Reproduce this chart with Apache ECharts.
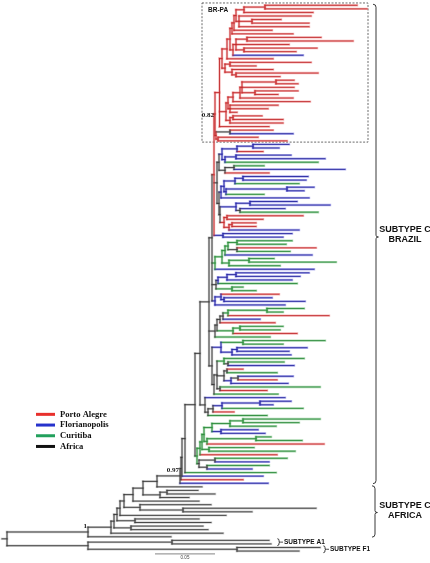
<!DOCTYPE html>
<html><head><meta charset="utf-8">
<script src="https://cdn.jsdelivr.net/npm/echarts@6/dist/echarts.min.js"></script>
<style>html,body{margin:0;padding:0;background:#fff}#c{width:430px;height:563px}</style>
</head><body><div id="c"></div>
<script>
// ---------------- DATA ----------------
const groupNames = ['Porto Alegre', 'Florianopolis', 'Curitiba', 'Africa'];
const groupCodes = ['P', 'F', 'C', 'A'];

// tip (leaf) end positions along the distance axis, top to bottom
const leafEnd = [
  357,367,313,311,281,309,309,272,293,321,353,289,317,296,303,273,311,256,273,318,
  280,294,298,294,298,278,293,310,278,268,237,262,283,283,269,273,293,258,287,
  289,279,263,291,325,318,264,345,269,308,306,299,314,304,264,309,297,330,285,318,
  303,263,256,256,299,292,283,292,286,316,290,312,274,336,280,314,309,300,292,297,
  243,256,279,272,305,285,304,283,329,260,275,283,280,297,270,325,283,307,289,291,
  304,284,294,243,277,293,277,288,320,267,278,285,291,273,303,234,267,
  320,299,276,258,265,271,302,324,254,295,277,287,269,269,252,276,263,243,268,
  202,198,215,189,199,211,316,252,226,199,211,203,208,223,171,
  269,271,320,299
];

// sampling origin of each tip (P/F/C/A), top to bottom, in blocks
const leafGroupBlocks = [
  'PPPPPPPPPP', 'PPPPFPPPPP', 'PPPPPPPPPP', 'PPPPPPFPP',
  'FFPFFCCFPF', 'FCFFCFFFFC', 'PPPPFFFCCP', 'CFCCCFFFFC',
  'CCPFFFCCPF', 'PCCPCCCFFF', 'CCFPCFPFCP', 'CFFFCPC',
  'CCCFFCCPCC', 'PCFCFCFPF',
  'AAAAAAAAAA', 'AAAAAAAAA'
];
const leafGroup = leafGroupBlocks.join('').split('');

// internal nodes: [first tip, last tip, node position]
const clades = [
  [0,1,265],[0,2,244],[4,5,252],[3,6,239],[0,6,236],[0,7,234],[0,8,232],
  [9,10,247],[12,13,244],[9,13,236],[9,14,233],[0,14,230],[0,15,227],
  [16,17,230],[19,20,236],[18,20,232],[16,20,225],[0,20,222],
  [21,22,276],[24,25,255],[21,25,242],[21,26,240],[21,27,233],[28,30,230],
  [21,30,228],[31,32,233],[31,33,230],[21,33,226],[0,34,219.5],
  [35,36,230],[37,38,218],[35,38,216],[0,38,215],
  [39,40,253],[39,41,237],[42,43,236],[42,44,225],[39,44,222],[45,46,234],
  [45,47,225],[39,47,219],[48,49,243],[48,50,235],[51,52,287],[51,53,226],
  [48,53,224],[48,54,221],[55,56,250],[57,58,240],[55,58,236],[59,60,227],
  [61,62,232],[61,63,229],[59,63,224],[55,63,220],[48,63,219],[39,63,217],
  [64,65,223],[0,65,214],
  [66,67,237],[68,69,237],[66,69,228],[66,70,225],[71,72,249],[71,73,229],
  [66,73,222],[66,74,215],[75,76,236],[75,77,227],[75,78,218],[79,80,232],
  [75,80,216],[82,83,224],[81,83,221],[81,84,215],[0,84,212],
  [85,86,267],[85,87,228],[85,88,223],[85,89,220],[90,91,240],[90,92,233],
  [85,92,217],[85,93,215],[94,95,243],[96,97,237],[96,98,232],[94,98,221],
  [100,101,228],[99,101,224],[102,103,227],[104,105,238],[104,106,231],
  [102,106,224],[107,108,220],[99,108,217],[99,109,214],[94,109,212],
  [0,109,209],[111,112,260],[111,113,222],[111,114,213],[111,115,208],
  [110,115,205],[0,115,200],
  [116,117,243],[116,118,230],[119,120,221],[116,120,212],[121,122,256],
  [121,123,207],[116,123,204],[124,125,209],[116,125,202],[116,126,200],
  [127,128,215],[129,130,207],[127,130,199],[116,130,197],
  [0,130,195],[0,131,185],[0,132,182],[0,133,181],[0,134,180],
  [0,135,157],[136,137,167],[136,138,160],[0,138,143],[0,139,133],
  [141,142,183],[140,142,140],[0,142,124],[0,143,120],[144,145,135],
  [0,145,117],[146,147,131],[0,147,114],[0,148,111],[0,149,88],
  [150,151,172],[152,153,237],[150,153,88],[0,153,7]
];

// support values shown on nodes
const supportFrom = [0, 0, 0];
const supportTo = [38, 134, 149];
const supportValue = ['0.82', '0.97', '1'];

// brackets on the right
const bracketLabel = ['SUBTYPE C\nBRAZIL', 'SUBTYPE C\nAFRICA', 'SUBTYPE A1', 'SUBTYPE F1'];
const bracketFrom = [0, 135, 150, 152];
const bracketTo = [134, 149, 151, 153];

// highlighted clade box
const boxLabel = 'BR-PA';
const boxFrom = 0, boxTo = 38;

const scaleBarLabel = '0.05';
const scaleBarLength = 60;

// ---------------- TREE LAYOUT ----------------
const nodes = [];
leafEnd.forEach((e, i) => nodes.push({from: i, to: i, x: e, leaf: true, children: []}));
clades.forEach(c => nodes.push({from: c[0], to: c[1], x: c[2], leaf: false, children: []}));
const internal = nodes.filter(n => !n.leaf).sort((a, b) => (a.to - a.from) - (b.to - b.from));
nodes.forEach(n => {
  for (const c of internal) {
    if (c === n) continue;
    if (c.from <= n.from && c.to >= n.to && (c.to - c.from) > (n.to - n.from)) { n.parent = c; c.children.push(n); break; }
  }
});
nodes.forEach(n => { if (n.leaf) n.y = n.from; });
internal.forEach(n => {
  n.children.sort((a, b) => a.from - b.from);
  n.y = (n.children[0].y + n.children[n.children.length - 1].y) / 2;
});
nodes.forEach(n => {
  const cnt = [0, 0, 0, 0];
  for (let i = n.from; i <= n.to; i++) cnt[groupCodes.indexOf(leafGroup[i])]++;
  const tot = n.to - n.from + 1;
  let best = 0; for (let k = 1; k < 4; k++) if (cnt[k] > cnt[best]) best = k;
  n.col = cnt[best] / tot >= 0.6 ? best : 4;
});
function findNode(a, b) { return nodes.find(n => !n.leaf && n.from === a && n.to === b); }

const segs = [];
nodes.forEach(n => {
  if (n.parent) segs.push([n.parent.x, n.y, n.x, n.y, n.col]);
  else segs.push([n.x - 5, n.y, n.x, n.y, n.col]);
  if (!n.leaf) segs.push([n.x, n.children[0].y, n.x, n.children[n.children.length - 1].y, n.col]);
});

const palette = [
  {core: '#c12a2c', halo: 'rgba(236,120,120,0.55)'},
  {core: '#25259c', halo: 'rgba(120,120,228,0.55)'},
  {core: '#2b8a3b', halo: 'rgba(110,190,120,0.55)'},
  {core: '#3a3a3a', halo: 'rgba(150,150,150,0.45)'},
  {core: '#333333', halo: 'rgba(150,150,150,0.45)'}
];
const legendColors = ['#e8302c', '#2632cc', '#22a05c', '#111111'];

const yStep = 3.567, yTop0 = 5.3;
const yMin = -yTop0 / yStep, yMax = yMin + 563 / yStep;

function segRender(isHalo) {
  return function (params, api) {
    const p1 = api.coord([api.value(0), api.value(1)]);
    const p2 = api.coord([api.value(2), api.value(3)]);
    const c = palette[api.value(4)];
    return {type: 'line', shape: {x1: p1[0], y1: p1[1], x2: p2[0], y2: p2[1]},
      style: {stroke: isHalo ? c.halo : c.core, lineWidth: isHalo ? 2.4 : 0.9, lineCap: 'square'}};
  };
}

const supportData = supportValue.map((v, i) => { const n = findNode(supportFrom[i], supportTo[i]); return [n.x, n.y, i]; });
const bracketData = bracketLabel.map((l, i) => [bracketFrom[i], bracketTo[i], i]);

const chart = echarts.init(document.getElementById('c'), null, {renderer: 'canvas'});
chart.setOption({
  animation: false,
  backgroundColor: '#fff',
  grid: {left: 0, right: 0, top: 0, bottom: 0},
  xAxis: {type: 'value', min: 0, max: 430, show: false},
  yAxis: {type: 'value', min: yMin, max: yMax, inverse: true, show: false},
  legend: {
    data: groupNames.map(n => ({name: n, icon: 'rect'})),
    orient: 'vertical', left: 36, top: 409, padding: 0, itemWidth: 19, itemHeight: 3, itemGap: 0,
    textStyle: {fontFamily: 'Liberation Serif', fontWeight: 'bold', fontSize: 8.6, color: '#111', lineHeight: 10.7}
  },
  series: [
    {type: 'custom', name: 'halo', silent: true, z: 1, renderItem: segRender(true), data: segs},
    {type: 'custom', name: 'core', silent: true, z: 2, renderItem: segRender(false), data: segs},
    {type: 'custom', name: 'support', silent: true, z: 3, data: supportData,
      renderItem: function (params, api) {
        const p = api.coord([api.value(0), api.value(1)]);
        const i = api.value(2);
        return {type: 'text', x: p[0] - 1, y: p[1] - 2 + (i === 0 ? 7 : 0),
          style: {text: supportValue[i], fill: '#111', fontFamily: 'Liberation Serif', fontWeight: 'bold', fontSize: 7, align: 'right', verticalAlign: 'bottom'}};
      }},
    {type: 'custom', name: 'box', silent: true, z: 0, data: [[boxFrom, boxTo]],
      renderItem: function (params, api) {
        const a = api.coord([202, api.value(0) - 0.65]);
        const b = api.coord([368, api.value(1) + 0.35]);
        return {type: 'group', children: [
          {type: 'rect', shape: {x: a[0], y: a[1], width: b[0] - a[0], height: b[1] - a[1]},
            style: {fill: 'none', stroke: '#444', lineWidth: 0.8, lineDash: [2, 1.5]}},
          {type: 'text', x: a[0] + 6, y: a[1] + 7,
            style: {text: boxLabel, fill: '#111', fontFamily: 'Liberation Sans', fontWeight: 'bold', fontSize: 6.5, align: 'left', verticalAlign: 'middle'}}
        ]};
      }},
    {type: 'custom', name: 'brackets', silent: true, z: 3, data: bracketData,
      renderItem: function (params, api) {
        const i = api.value(2);
        const big = i < 2;
        const bx = [376, 375, 279, 325][i];
        const t = api.coord([bx, api.value(0) - (big ? 0.3 : 0.45)]);
        const b = api.coord([bx, api.value(1) + (big ? 0.1 : 0.45)]);
        const x = t[0], y1 = t[1], y2 = b[1];
        const ym = big ? [237, 512.5][i] : (y1 + y2) / 2;
        const h = big ? 3 : 1.6;
        const path = 'M' + (x - h) + ' ' + y1 + ' Q' + x + ' ' + y1 + ' ' + x + ' ' + (y1 + h) +
          ' L' + x + ' ' + (ym - h * 0.6) + ' Q' + x + ' ' + ym + ' ' + (x + h * 0.8) + ' ' + ym +
          ' Q' + x + ' ' + ym + ' ' + x + ' ' + (ym + h * 0.6) +
          ' L' + x + ' ' + (y2 - h) + ' Q' + x + ' ' + y2 + ' ' + (x - h) + ' ' + y2;
        const children = [{type: 'path', shape: {pathData: path}, style: {fill: 'none', stroke: '#222', lineWidth: 0.9}}];
        if (big) {
          children.push({type: 'text', x: 405, y: ym - 2,
            style: {text: bracketLabel[i], fill: '#111', fontFamily: 'Liberation Sans', fontWeight: 'bold', fontSize: 9, lineHeight: 10, align: 'center', verticalAlign: 'middle'}});
        } else {
          children.push({type: 'line', shape: {x1: x + 1.5, y1: ym, x2: x + 4, y2: ym}, style: {stroke: '#222', lineWidth: 0.8}});
          children.push({type: 'text', x: x + 5, y: ym,
            style: {text: bracketLabel[i], fill: '#111', fontFamily: 'Liberation Sans', fontWeight: 'bold', fontSize: 6.5, align: 'left', verticalAlign: 'middle'}});
        }
        return {type: 'group', children: children};
      }},
    {type: 'custom', name: 'scale', silent: true, z: 3, data: [[155, 153.8]],
      renderItem: function (params, api) {
        const a = api.coord([api.value(0), api.value(1)]);
        const b = api.coord([api.value(0) + scaleBarLength, api.value(1)]);
        return {type: 'group', children: [
          {type: 'line', shape: {x1: a[0], y1: a[1], x2: b[0], y2: b[1]}, style: {stroke: '#666', lineWidth: 0.8}},
          {type: 'text', x: (a[0] + b[0]) / 2, y: a[1] + 4,
            style: {text: scaleBarLabel, fill: '#444', fontFamily: 'Liberation Sans', fontSize: 4.5, align: 'center', verticalAlign: 'middle'}}
        ]};
      }},
    ...groupNames.map((n, i) => ({type: 'line', name: n, data: [], itemStyle: {color: legendColors[i]}, lineStyle: {color: legendColors[i]}}))
  ]
});
</script>
</body></html>
